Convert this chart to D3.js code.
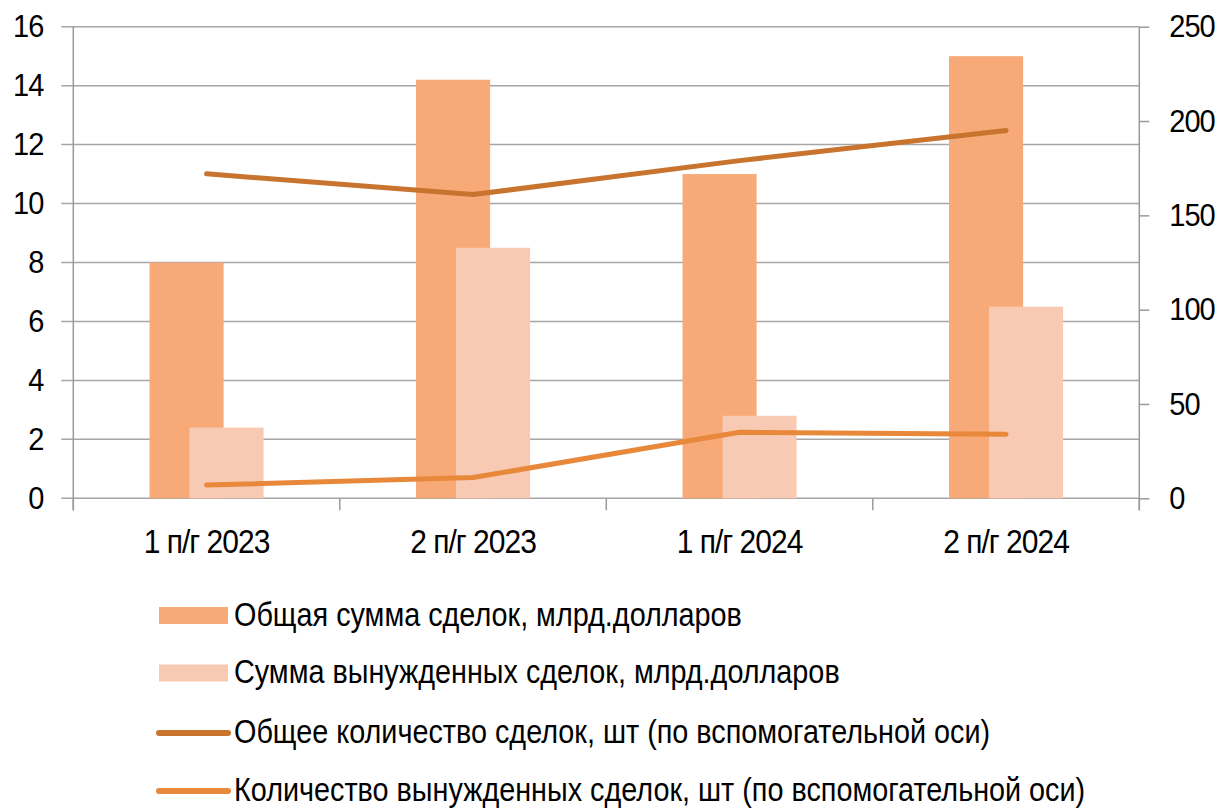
<!DOCTYPE html>
<html><head><meta charset="utf-8">
<script src="https://cdn.jsdelivr.net/npm/d3@7"></script>
<style>
html,body{margin:0;padding:0;background:#fff;}
text{font-family:"Liberation Sans",Arial,sans-serif;fill:#000;}
</style></head>
<body>
<svg id="chart" width="1223" height="809"></svg>
<script>
const categories = ["1 п/г 2023", "2 п/г 2023", "1 п/г 2024", "2 п/г 2024"];
const totalSum = [8.0, 14.2, 11.0, 15.0];
const forcedSum = [2.4, 8.5, 2.8, 6.5];
const totalCount = [172, 161, 179, 195];
const forcedCount = [7, 11, 35, 34];
const leftTicks = [0, 2, 4, 6, 8, 10, 12, 14, 16];
const rightTicks = [0, 50, 100, 150, 200, 250];
const seriesNames = [
  "Общая сумма сделок, млрд.долларов",
  "Сумма вынужденных сделок, млрд.долларов",
  "Общее количество сделок, шт (по вспомогательной оси)",
  "Количество вынужденных сделок, шт (по вспомогательной оси)"
];

const colors = {bar1:"#F7AA78", bar2:"#F9CAB3", line1:"#C8742F", line2:"#E8883A", grid:"#A6A6A6", axis:"#9A9A9A"};

const svg = d3.select("#chart");
const L = 73.3, R = 1139.3, T = 26.7, B = 498.3;

const x = d3.scaleBand().domain(categories).range([L, R]).paddingInner(0).paddingOuter(0);
const yL = d3.scaleLinear().domain([0, 16]).range([B, T]);
const yR = d3.scaleLinear().domain([0, 250]).range([B, T]);

// gridlines
svg.append("g").selectAll("line").data(leftTicks).join("line")
  .attr("x1", L - 12).attr("x2", R).attr("y1", d => yL(d)).attr("y2", d => yL(d))
  .attr("stroke", colors.grid).attr("stroke-width", 1.5);

// left axis
const gL = svg.append("g").attr("transform", `translate(${L},0)`)
  .call(d3.axisLeft(yL).tickValues(leftTicks).tickSize(0).tickPadding(30));
gL.select(".domain").remove();
gL.selectAll("text").style("font-size", "29px").style("letter-spacing", "-1px").attr("fill", "#000")
  .attr("transform", "scale(1,1.1)");
svg.append("line").attr("x1", L).attr("x2", L).attr("y1", T).attr("y2", B + 12)
  .attr("stroke", colors.axis).attr("stroke-width", 1.5);

// right axis
const gR = svg.append("g").attr("transform", `translate(${R},0)`)
  .call(d3.axisRight(yR).tickValues(rightTicks).tickSize(10).tickPadding(20));
gR.select(".domain").attr("stroke", colors.axis).attr("stroke-width", 1.5).attr("d", `M0,${T}V${B + 12}`);
gR.selectAll(".tick line").attr("stroke", colors.axis).attr("stroke-width", 1.5);
gR.selectAll("text").style("font-size", "29px").style("letter-spacing", "-1px").attr("fill", "#000")
  .attr("transform", "scale(1,1.1)");

// x axis ticks at boundaries
const bounds = categories.map(c => x(c)).concat([R]);
svg.append("g").selectAll("line").data(bounds).join("line")
  .attr("x1", d => d).attr("x2", d => d).attr("y1", B).attr("y2", B + 12)
  .attr("stroke", colors.axis).attr("stroke-width", 1.5);

svg.append("g").selectAll("text").data(categories).join("text")
  .attr("transform", d => `translate(${x(d) + x.bandwidth() / 2},553) scale(1,1.09)`)
  .attr("text-anchor", "middle").style("font-size", "30px").style("letter-spacing", "-1px")
  .text(d => d);

// bars
const bw = x.bandwidth() * 0.278;
const off = x.bandwidth() * 0.075;
svg.append("g").selectAll("rect").data(totalSum).join("rect")
  .attr("x", (d, i) => x(categories[i]) + x.bandwidth() / 2 - off - bw / 2)
  .attr("width", bw).attr("y", d => yL(d)).attr("height", d => B - yL(d))
  .attr("fill", colors.bar1);
svg.append("g").selectAll("rect").data(forcedSum).join("rect")
  .attr("x", (d, i) => x(categories[i]) + x.bandwidth() / 2 + off - bw / 2)
  .attr("width", bw).attr("y", d => yL(d)).attr("height", d => B - yL(d))
  .attr("fill", colors.bar2);

// lines
const line = d3.line().x((d, i) => x(categories[i]) + x.bandwidth() / 2).y(d => yR(d));
svg.append("path").datum(totalCount).attr("d", line).attr("fill", "none")
  .attr("stroke", colors.line1).attr("stroke-width", 5).attr("stroke-linecap", "round").attr("stroke-linejoin", "round");
svg.append("path").datum(forcedCount).attr("d", line).attr("fill", "none")
  .attr("stroke", colors.line2).attr("stroke-width", 5).attr("stroke-linecap", "round").attr("stroke-linejoin", "round");

// legend
const legY = [615.5, 673, 733, 791];
const lg = svg.append("g");
const types = ["bar1", "bar2", "line1", "line2"];
types.forEach((t, i) => {
  const cy = legY[i];
  if (t.startsWith("bar")) {
    lg.append("rect").attr("x", 159).attr("y", cy - 8.5).attr("width", 69).attr("height", 17).attr("fill", colors[t]);
  } else {
    lg.append("line").attr("x1", 159).attr("x2", 228).attr("y1", cy).attr("y2", cy)
      .attr("stroke", colors[t]).attr("stroke-width", 6).attr("stroke-linecap", "round");
  }
  lg.append("text").attr("transform", `translate(234,${cy + 10}) scale(1,1.15)`)
    .style("font-size", "28.8px")
    .text(seriesNames[i]);
});
</script>
</body></html>
